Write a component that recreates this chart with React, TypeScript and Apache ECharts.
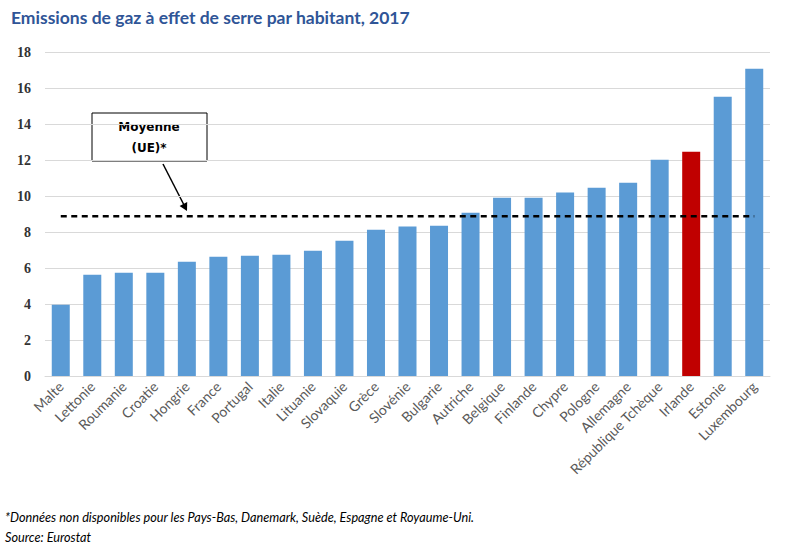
import React, { useEffect, useRef } from "react";
import * as echarts from "echarts";

const categories = [
  "Malte", "Lettonie", "Roumanie", "Croatie", "Hongrie", "France", "Portugal",
  "Italie", "Lituanie", "Slovaquie", "Grèce", "Slovénie", "Bulgarie", "Autriche",
  "Belgique", "Finlande", "Chypre", "Pologne", "Allemagne", "République Tchèque",
  "Irlande", "Estonie", "Luxembourg",
];
const values = [
  3.96, 5.63, 5.74, 5.74, 6.35, 6.63, 6.68, 6.74, 6.96, 7.52, 8.13, 8.3, 8.35,
  9.07, 9.9, 9.9, 10.2, 10.46, 10.74, 12.02, 12.46, 15.52, 17.07,
];
const highlight = "Irlande";
const euAverage = 8.87;
const yTicks = { min: 0, max: 18, interval: 2 };

const BLUE = "#5B9BD5";
const RED = "#C00000";

export default function App() {
  const ref = useRef<HTMLDivElement>(null);
  useEffect(() => {
    if (!ref.current) return;
    const chart = echarts.init(ref.current, undefined, { renderer: "svg" });
    const avgData = categories.map(() => euAverage);
    chart.setOption({
      animation: false,
      backgroundColor: "#ffffff",
      title: {
        text: "Emissions de gaz à effet de serre par habitant, 2017",
        left: 6,
        top: 3,
        textStyle: {
          fontFamily: "Lato",
          fontWeight: "bold",
          fontSize: 17.5,
          color: "#2F5597",
        },
      },
      grid: { left: 45, right: 32, top: 52, bottom: 171, containLabel: false },
      xAxis: {
        type: "category",
        data: categories,
        axisTick: { show: false },
        axisLine: { lineStyle: { color: "#d9d9d9", width: 1 } },
        axisLabel: {
          rotate: 45,
          interval: 0,
          margin: 8,
          color: "#595959",
          fontFamily: "Lato",
          fontSize: 14,
        },
      },
      yAxis: {
        type: "value",
        min: yTicks.min,
        max: yTicks.max,
        interval: yTicks.interval,
        axisLine: { show: false },
        axisTick: { show: false },
        splitLine: { lineStyle: { color: "#d9d9d9", width: 1 } },
        axisLabel: {
          margin: 14,
          color: "#333333",
          fontFamily: "Liberation Serif",
          fontWeight: "bold",
          fontSize: 14,
        },
      },
      series: [
        {
          type: "bar",
          barWidth: 18,
          data: values.map((v, i) => ({
            value: v,
            itemStyle: { color: categories[i] === highlight ? RED : BLUE },
          })),
        },
        {
          type: "line",
          data: avgData,
          symbol: "none",
          silent: true,
          lineStyle: { color: "#000000", width: 2.5, type: [6, 4.5] },
          z: 5,
        },
      ],
      graphic: [
        {
          type: "rect",
          shape: { x: 92, y: 113, width: 115, height: 48 },
          style: { fill: "#ffffff", stroke: "#000000", lineWidth: 1 },
        },
        {
          type: "text",
          x: 149,
          y: 127,
          style: {
            text: "Moyenne",
            fontFamily: "DejaVu Sans",
            fontWeight: "bold",
            fontSize: 12,
            fill: "#000000",
            align: "center",
            verticalAlign: "middle",
          },
        },
        {
          type: "text",
          x: 149,
          y: 148,
          style: {
            text: "(UE)*",
            fontFamily: "DejaVu Sans",
            fontWeight: "bold",
            fontSize: 12,
            fill: "#000000",
            align: "center",
            verticalAlign: "middle",
          },
        },
        {
          type: "line",
          shape: { x1: 163, y1: 164, x2: 184, y2: 205 },
          style: { stroke: "#000000", lineWidth: 1.5 },
        },
        {
          type: "polygon",
          shape: { points: [[187, 211], [179.6, 205.9], [187.2, 202.0]] },
          style: { fill: "#000000" },
        },
        {
          type: "text",
          x: 5,
          y: 517,
          style: {
            text: "*Données non disponibles pour les Pays-Bas, Danemark, Suède, Espagne et Royaume-Uni.",
            fontFamily: "Lato",
            fontStyle: "italic",
            fontSize: 12.7,
            fill: "#000000",
            verticalAlign: "middle",
          },
        },
        {
          type: "text",
          x: 5,
          y: 537,
          style: {
            text: "Source: Eurostat",
            fontFamily: "Lato",
            fontStyle: "italic",
            fontSize: 12.7,
            fill: "#000000",
            verticalAlign: "middle",
          },
        },
      ],
    });
    return () => chart.dispose();
  }, []);
  return (
    <div
      ref={ref}
      style={{ position: "fixed", left: 0, top: 0, width: 802, height: 547 }}
    />
  );
}
